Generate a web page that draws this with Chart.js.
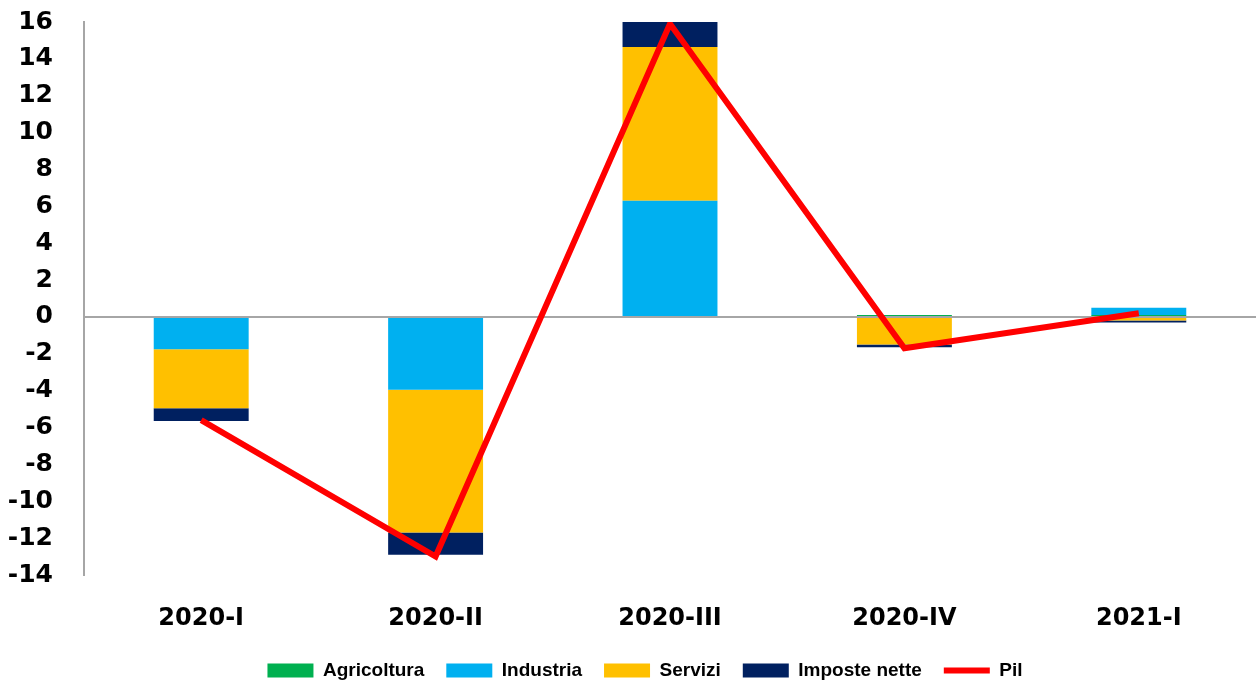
<!DOCTYPE html>
<html>
<head>
<meta charset="utf-8">
<script src="https://cdn.jsdelivr.net/npm/chart.js@4/dist/chart.umd.min.js"></script>
<style>
html,body{margin:0;padding:0;background:#fff;}
#wrap{width:1256px;height:680px;}
</style>
</head>
<body>
<div id="wrap"><canvas id="c" width="1256" height="680"></canvas></div>
<script>
const categories = ['2020-I', '2020-II', '2020-III', '2020-IV', '2021-I'];
const agricoltura = [0.0, 0.0, 0.0, 0.1, 0.1];
const industria = [-1.75, -3.95, 6.3, 0.0, 0.4];
const servizi = [-3.2, -7.75, 8.35, -1.5, -0.2];
const imposteNette = [-0.7, -1.2, 1.35, -0.15, -0.1];
const pil = [-5.6, -13.0, 15.9, -1.7, 0.2];
const yTicks = { min: -14, max: 16, step: 2 };

const xFont = { family: 'DejaVu Sans', weight: 'bold', size: 24 };
const yFont = { family: 'DejaVu Sans', weight: 'bold', size: 25 };
const grey = '#a6a6a6';

function barSet(label, data, color) {
  return { type: 'bar', label, data, backgroundColor: color, borderWidth: 0,
           stack: 'comp', order: 1, barPercentage: 0.405, categoryPercentage: 1.0 };
}

const legendShift = {
  id: 'legendShift',
  afterLayout(chart) {
    const lg = chart.legend;
    if (lg) { lg.left += 17; lg.right += 17; }
  }
};

new Chart(document.getElementById('c'), {
  data: {
    labels: categories,
    datasets: [
      barSet('Agricoltura', agricoltura, '#00b050'),
      barSet('Industria', industria, '#00b0f0'),
      barSet('Servizi', servizi, '#ffc000'),
      barSet('Imposte nette', imposteNette, '#002060'),
      { type: 'line', label: 'Pil', data: pil, borderColor: '#ff0000', backgroundColor: '#ff0000',
        borderWidth: 6, pointRadius: 0, tension: 0, stack: 'pil', order: 0, fill: false }
    ]
  },
  plugins: [legendShift],
  options: {
    responsive: false,
    animation: false,
    layout: { padding: { top: 22, right: 0, left: 0, bottom: -10 } },
    plugins: {
      tooltip: { enabled: false },
      legend: {
        position: 'bottom',
        labels: {
          usePointStyle: true,
          pointStyleWidth: 46,
          boxHeight: 14,
          padding: 22,
          color: '#000',
          font: { family: 'Liberation Sans', weight: 'bold', size: 19 },
          sort: (a, b) => a.datasetIndex - b.datasetIndex,
          generateLabels: (chart) => {
            const items = Chart.defaults.plugins.legend.labels.generateLabels(chart);
            items.forEach(it => {
              if (it.text === 'Pil') { it.pointStyle = 'line'; it.lineWidth = 6; it.strokeStyle = '#ff0000'; }
              else { it.pointStyle = 'rect'; it.lineWidth = 0; }
            });
            return items;
          }
        }
      }
    },
    scales: {
      x: {
        stacked: true,
        grid: { display: false },
        border: { display: false },
        afterFit: (s) => { s.height = 64; },
        ticks: { color: '#000', font: xFont, padding: 21, maxRotation: 0 }
      },
      y: {
        stacked: true,
        min: yTicks.min,
        max: yTicks.max,
        afterFit: (s) => { s.width = 84; s.paddingTop = 0; s.paddingBottom = 0; },
        ticks: { stepSize: yTicks.step, color: '#000', font: yFont, padding: 31 },
        grid: {
          drawTicks: false,
          lineWidth: 2,
          color: (ctx) => (ctx.tick && ctx.tick.value === 0) ? grey : 'rgba(0,0,0,0)'
        },
        border: { display: true, color: grey, width: 2 }
      }
    }
  }
});
</script>
</body>
</html>
